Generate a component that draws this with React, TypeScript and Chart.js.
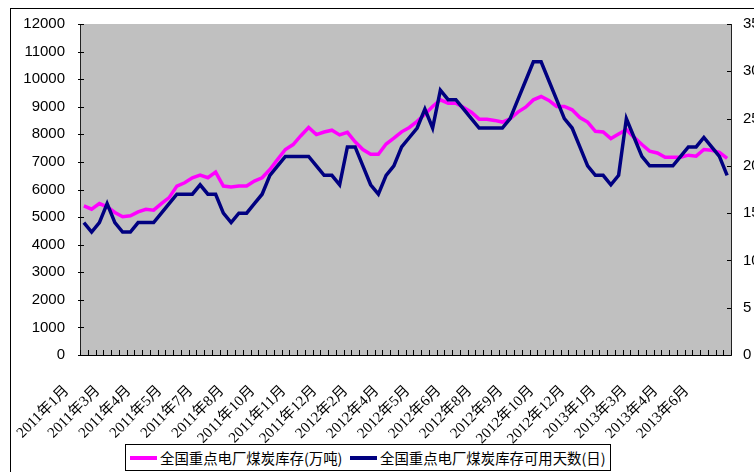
import React, { useEffect, useRef } from "react";
import { Chart, registerables } from "chart.js";

Chart.register(...registerables);

const tickLabels = [
  "2011年1月", "2011年3月", "2011年4月", "2011年5月", "2011年7月", "2011年8月",
  "2011年10月", "2011年11月", "2011年12月", "2012年2月", "2012年4月", "2012年5月",
  "2012年6月", "2012年8月", "2012年9月", "2012年10月", "2012年12月", "2013年1月",
  "2013年3月", "2013年4月", "2013年6月",
];
const pointsPerLabel = 4;

const stockSeries = [
  5405, 5285, 5490, 5370, 5165, 5010, 5045, 5190, 5285, 5250,
  5490, 5705, 6125, 6245, 6425, 6520, 6425, 6630, 6125, 6090,
  6125, 6125, 6305, 6425, 6725, 7090, 7450, 7630, 7950, 8250,
  7990, 8085, 8150, 7980, 8070, 7730, 7450, 7280, 7280, 7650,
  7860, 8090, 8250, 8470, 8730, 9010, 9250, 9130, 9130, 8975,
  8805, 8550, 8550, 8505, 8445, 8565, 8805, 8985, 9250, 9370,
  9230, 9010, 9010, 8890, 8610, 8445, 8110, 8085, 7845, 8010,
  8170, 7890, 7630, 7390, 7325, 7170, 7170, 7170, 7245, 7210,
  7450, 7425, 7350, 7125,
];

const daysSeries = [
  14, 13, 14, 16, 14, 13, 13, 14, 14, 14,
  15, 16, 17, 17, 17, 18, 17, 17, 15, 14,
  15, 15, 16, 17, 19, 20, 21, 21, 21, 21,
  20, 19, 19, 18, 22, 22, 20, 18, 17, 19,
  20, 22, 23, 24, 26, 24, 28, 27, 27, 26,
  25, 24, 24, 24, 24, 25, 27, 29, 31, 31,
  29, 27, 25, 24, 22, 20, 19, 19, 18, 19,
  25, 23, 21, 20, 20, 20, 20, 21, 22, 22,
  23, 22, 21, 19,
];

const categories = stockSeries.map((_, i) =>
  i % pointsPerLabel === 0 ? tickLabels[i / pointsPerLabel] : ""
);

const seriesNames = ["全国重点电厂煤炭库存(万吨)", "全国重点电厂煤炭库存可用天数(日)"];
const seriesColors = ["#FF00FF", "#000080"];

const plotDecor = {
  id: "plotDecor",
  beforeDraw(chart: any) {
    const { ctx, chartArea: a } = chart;
    ctx.save();
    ctx.fillStyle = "#C0C0C0";
    ctx.fillRect(a.left, a.top, a.right - a.left, a.bottom - a.top);
    ctx.restore();
  },
  afterDraw(chart: any) {
    const { ctx, chartArea: a, scales } = chart;
    ctx.save();
    ctx.strokeStyle = "#000";
    ctx.lineWidth = 1;
    ctx.beginPath();
    const xs = scales.x;
    const step = xs.getPixelForValue(1) - xs.getPixelForValue(0);
    for (let i = 0; i <= categories.length; i++) {
      const px = Math.round(xs.getPixelForValue(0) + (i - 0.5) * step) + 0.5;
      ctx.moveTo(px, a.bottom);
      ctx.lineTo(px, a.bottom - 5);
    }
    for (const t of scales.y.ticks) {
      const py = Math.round(scales.y.getPixelForValue(t.value)) + 0.5;
      ctx.moveTo(a.left - 2, py);
      ctx.lineTo(a.left + 4, py);
    }
    for (const t of scales.y2.ticks) {
      const py = Math.round(scales.y2.getPixelForValue(t.value)) + 0.5;
      ctx.moveTo(a.right - 4, py);
      ctx.lineTo(a.right, py);
    }
    ctx.stroke();
    ctx.restore();
  },
};

export default function App() {
  const canvasRef = useRef<HTMLCanvasElement | null>(null);

  useEffect(() => {
    if (!canvasRef.current) return;
    const chart = new Chart(canvasRef.current, {
      type: "line",
      data: {
        labels: categories,
        datasets: [
          {
            label: seriesNames[0],
            data: stockSeries,
            borderColor: seriesColors[0],
            backgroundColor: seriesColors[0],
            borderWidth: 3.5,
            pointRadius: 0,
            tension: 0,
            yAxisID: "y",
            order: 2,
          },
          {
            label: seriesNames[1],
            data: daysSeries,
            borderColor: seriesColors[1],
            backgroundColor: seriesColors[1],
            borderWidth: 3.5,
            pointRadius: 0,
            tension: 0,
            yAxisID: "y2",
            order: 1,
          },
        ],
      },
      options: {
        responsive: false,
        animation: false,
        layout: { padding: { top: 22, left: 0, right: 0, bottom: 0 } },
        plugins: {
          legend: { display: false },
          tooltip: { enabled: false },
        },
        scales: {
          x: {
            type: "category",
            offset: true,
            grid: { display: false, drawTicks: false, offset: true },
            border: { display: true, color: "#000", width: 1 },
            afterFit: (s: any) => {
              s.height = 117;
            },
            ticks: {
              autoSkip: false,
              minRotation: 45,
              maxRotation: 45,
              padding: 27,
              labelOffset: -17,
              color: "#000",
              font: { family: '"Liberation Serif", "Noto Sans CJK SC", serif', size: 15 },
            },
          },
          y: {
            position: "left",
            min: 0,
            max: 12000,
            grid: { display: false, drawTicks: false },
            border: { display: true, color: "#222", width: 1 },
            afterFit: (s: any) => {
              s.width = 80;
            },
            ticks: {
              stepSize: 1000,
              padding: 15,
              color: "#000",
              callback: (v: any) => String(v),
              font: { family: '"Liberation Sans", Arial, sans-serif', size: 15 },
            },
          },
          y2: {
            position: "right",
            min: 0,
            max: 35,
            grid: { display: false, drawTicks: false },
            border: { display: true, color: "#222", width: 1 },
            afterFit: (s: any) => {
              s.width = 69;
            },
            ticks: {
              stepSize: 5,
              padding: 12,
              color: "#000",
              callback: (v: any) => String(v),
              font: { family: '"Liberation Sans", Arial, sans-serif', size: 15 },
            },
          },
        },
      },
      plugins: [plotDecor],
    });
    return () => chart.destroy();
  }, []);

  const legendFont = '14.4px "Noto Sans CJK SC", "Liberation Serif", serif';

  return (
    <div
      style={{
        position: "absolute",
        left: 0,
        top: 0,
        width: 754,
        height: 472,
        overflow: "hidden",
        background: "#fff",
      }}
    >
      <div
        style={{
          position: "absolute",
          left: 10,
          top: 8,
          width: 800,
          height: 500,
          border: "1px solid #000",
        }}
      />
      <canvas
        ref={canvasRef}
        width={800}
        height={472}
        style={{ position: "absolute", left: 0, top: 0, width: 800, height: 472 }}
      />
      <div
        style={{
          position: "absolute",
          left: 125,
          top: 444,
          width: 486,
          height: 27,
          border: "1px solid #000",
          boxSizing: "border-box",
          background: "#fff",
          font: legendFont,
          color: "#000",
        }}
      >
        {seriesNames.map((name, i) => (
          <React.Fragment key={name}>
            <div
              style={{
                position: "absolute",
                left: i === 0 ? 4 : 224,
                top: 11,
                width: 27,
                height: 4,
                background: seriesColors[i],
              }}
            />
            <div
              style={{
                position: "absolute",
                left: i === 0 ? 34 : 254,
                top: 0,
                height: 25,
                lineHeight: "25px",
                whiteSpace: "nowrap",
              }}
            >
              {name}
            </div>
          </React.Fragment>
        ))}
      </div>
    </div>
  );
}
